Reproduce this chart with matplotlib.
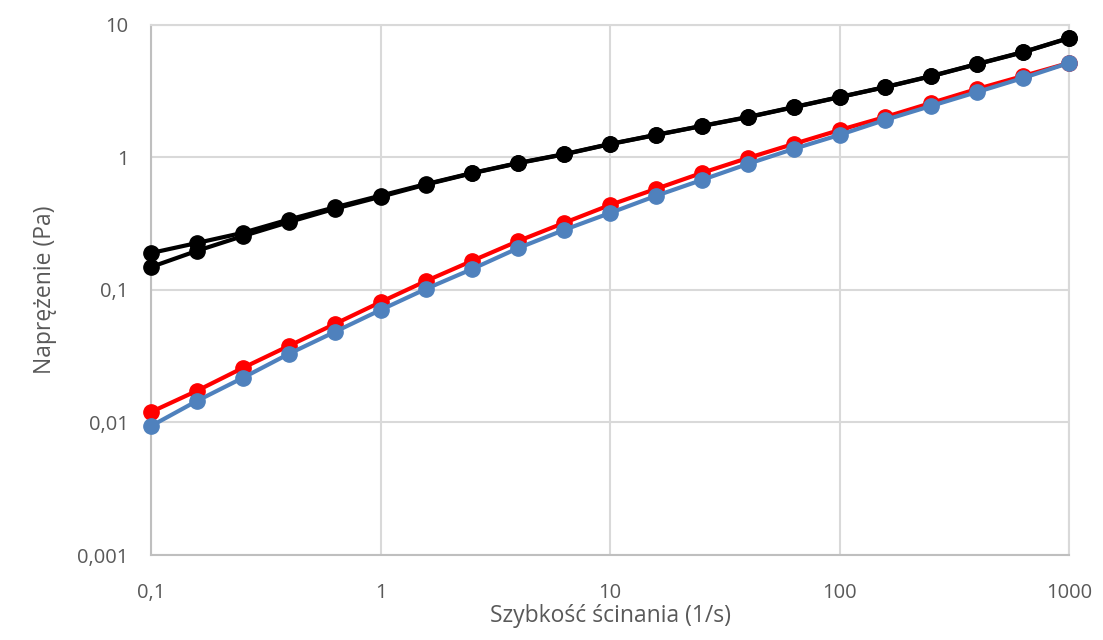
import numpy as np
import matplotlib.pyplot as plt
from matplotlib.ticker import FixedLocator, FixedFormatter, NullLocator

plt.rcParams['font.family'] = ['Open Sans', 'DejaVu Sans']

# shear rate (1/s), 5 points per decade
shear_rate = [0.1, 0.158, 0.251, 0.398, 0.631, 1, 1.58, 2.51, 3.98, 6.31, 10,
              15.8, 25.1, 39.8, 63.1, 100, 158, 251, 398, 631, 1000]

# stress (Pa)
black_a = [0.19, 0.226, 0.27, 0.34, 0.42, 0.515, 0.63, 0.764, 0.909, 1.06, 1.265,
           1.48, 1.73, 2.02, 2.40, 2.86, 3.40, 4.12, 5.08, 6.25, 7.98]
black_b = [0.149, 0.197, 0.255, 0.325, 0.41, 0.505, 0.625, 0.76, 0.905, 1.055, 1.26,
           1.475, 1.725, 2.01, 2.39, 2.85, 3.39, 4.10, 5.06, 6.22, 7.95]
red = [0.0120, 0.0173, 0.0258, 0.0378, 0.0553, 0.081, 0.117, 0.166, 0.234, 0.321, 0.438,
       0.578, 0.764, 0.99, 1.265, 1.61, 2.02, 2.58, 3.29, 4.12, 5.17]
blue = [0.0094, 0.0145, 0.0217, 0.0329, 0.0482, 0.0706, 0.102, 0.144, 0.207, 0.284, 0.381,
        0.512, 0.676, 0.893, 1.16, 1.48, 1.92, 2.45, 3.12, 3.98, 5.17]

x_ticks = [0.1, 1, 10, 100, 1000]
x_labels = ['0,1', '1', '10', '100', '1000']
y_ticks = [0.001, 0.01, 0.1, 1, 10]
y_labels = ['0,001', '0,01', '0,1', '1', '10']

fig = plt.figure(figsize=(11.03, 6.4), dpi=100)
ax = fig.add_axes([0.1369, 0.1328, 0.9692 - 0.1369, 0.961 - 0.1328])

style = dict(linewidth=3, marker='o', markersize=11, clip_on=False, zorder=3)
ax.plot(shear_rate, black_a, color='black', **style)
ax.plot(shear_rate, black_b, color='black', **style)
ax.plot(shear_rate, red, color='#ff0000', **style)
ax.plot(shear_rate, blue, color='#4f81bd', **style)

ax.set_xscale('log')
ax.set_yscale('log')
ax.set_xlim(0.1, 1000)
ax.set_ylim(0.001, 10)

ax.xaxis.set_major_locator(FixedLocator(x_ticks))
ax.xaxis.set_major_formatter(FixedFormatter(x_labels))
ax.xaxis.set_minor_locator(NullLocator())
ax.yaxis.set_major_locator(FixedLocator(y_ticks))
ax.yaxis.set_major_formatter(FixedFormatter(y_labels))
ax.yaxis.set_minor_locator(NullLocator())

ax.grid(True, color='#d9d9d9', linewidth=1.5, zorder=0)
ax.set_axisbelow(True)
for side in ['top', 'right']:
    ax.spines[side].set_color('#d9d9d9')
    ax.spines[side].set_linewidth(1.5)
for side in ['left', 'bottom']:
    ax.spines[side].set_color('#bfbfbf')
    ax.spines[side].set_linewidth(1.5)

ax.tick_params(length=0, labelsize=14.5, labelcolor='#595959')
ax.tick_params(axis='x', pad=20)
ax.tick_params(axis='y', pad=16)
ax.set_xlabel('Szybkość ścinania (1/s)', fontsize=16.5, color='#595959', labelpad=1)
ax.set_ylabel('Naprężenie (Pa)', fontsize=16.5, color='#595959', labelpad=15)

plt.savefig('out.png', dpi=100)
